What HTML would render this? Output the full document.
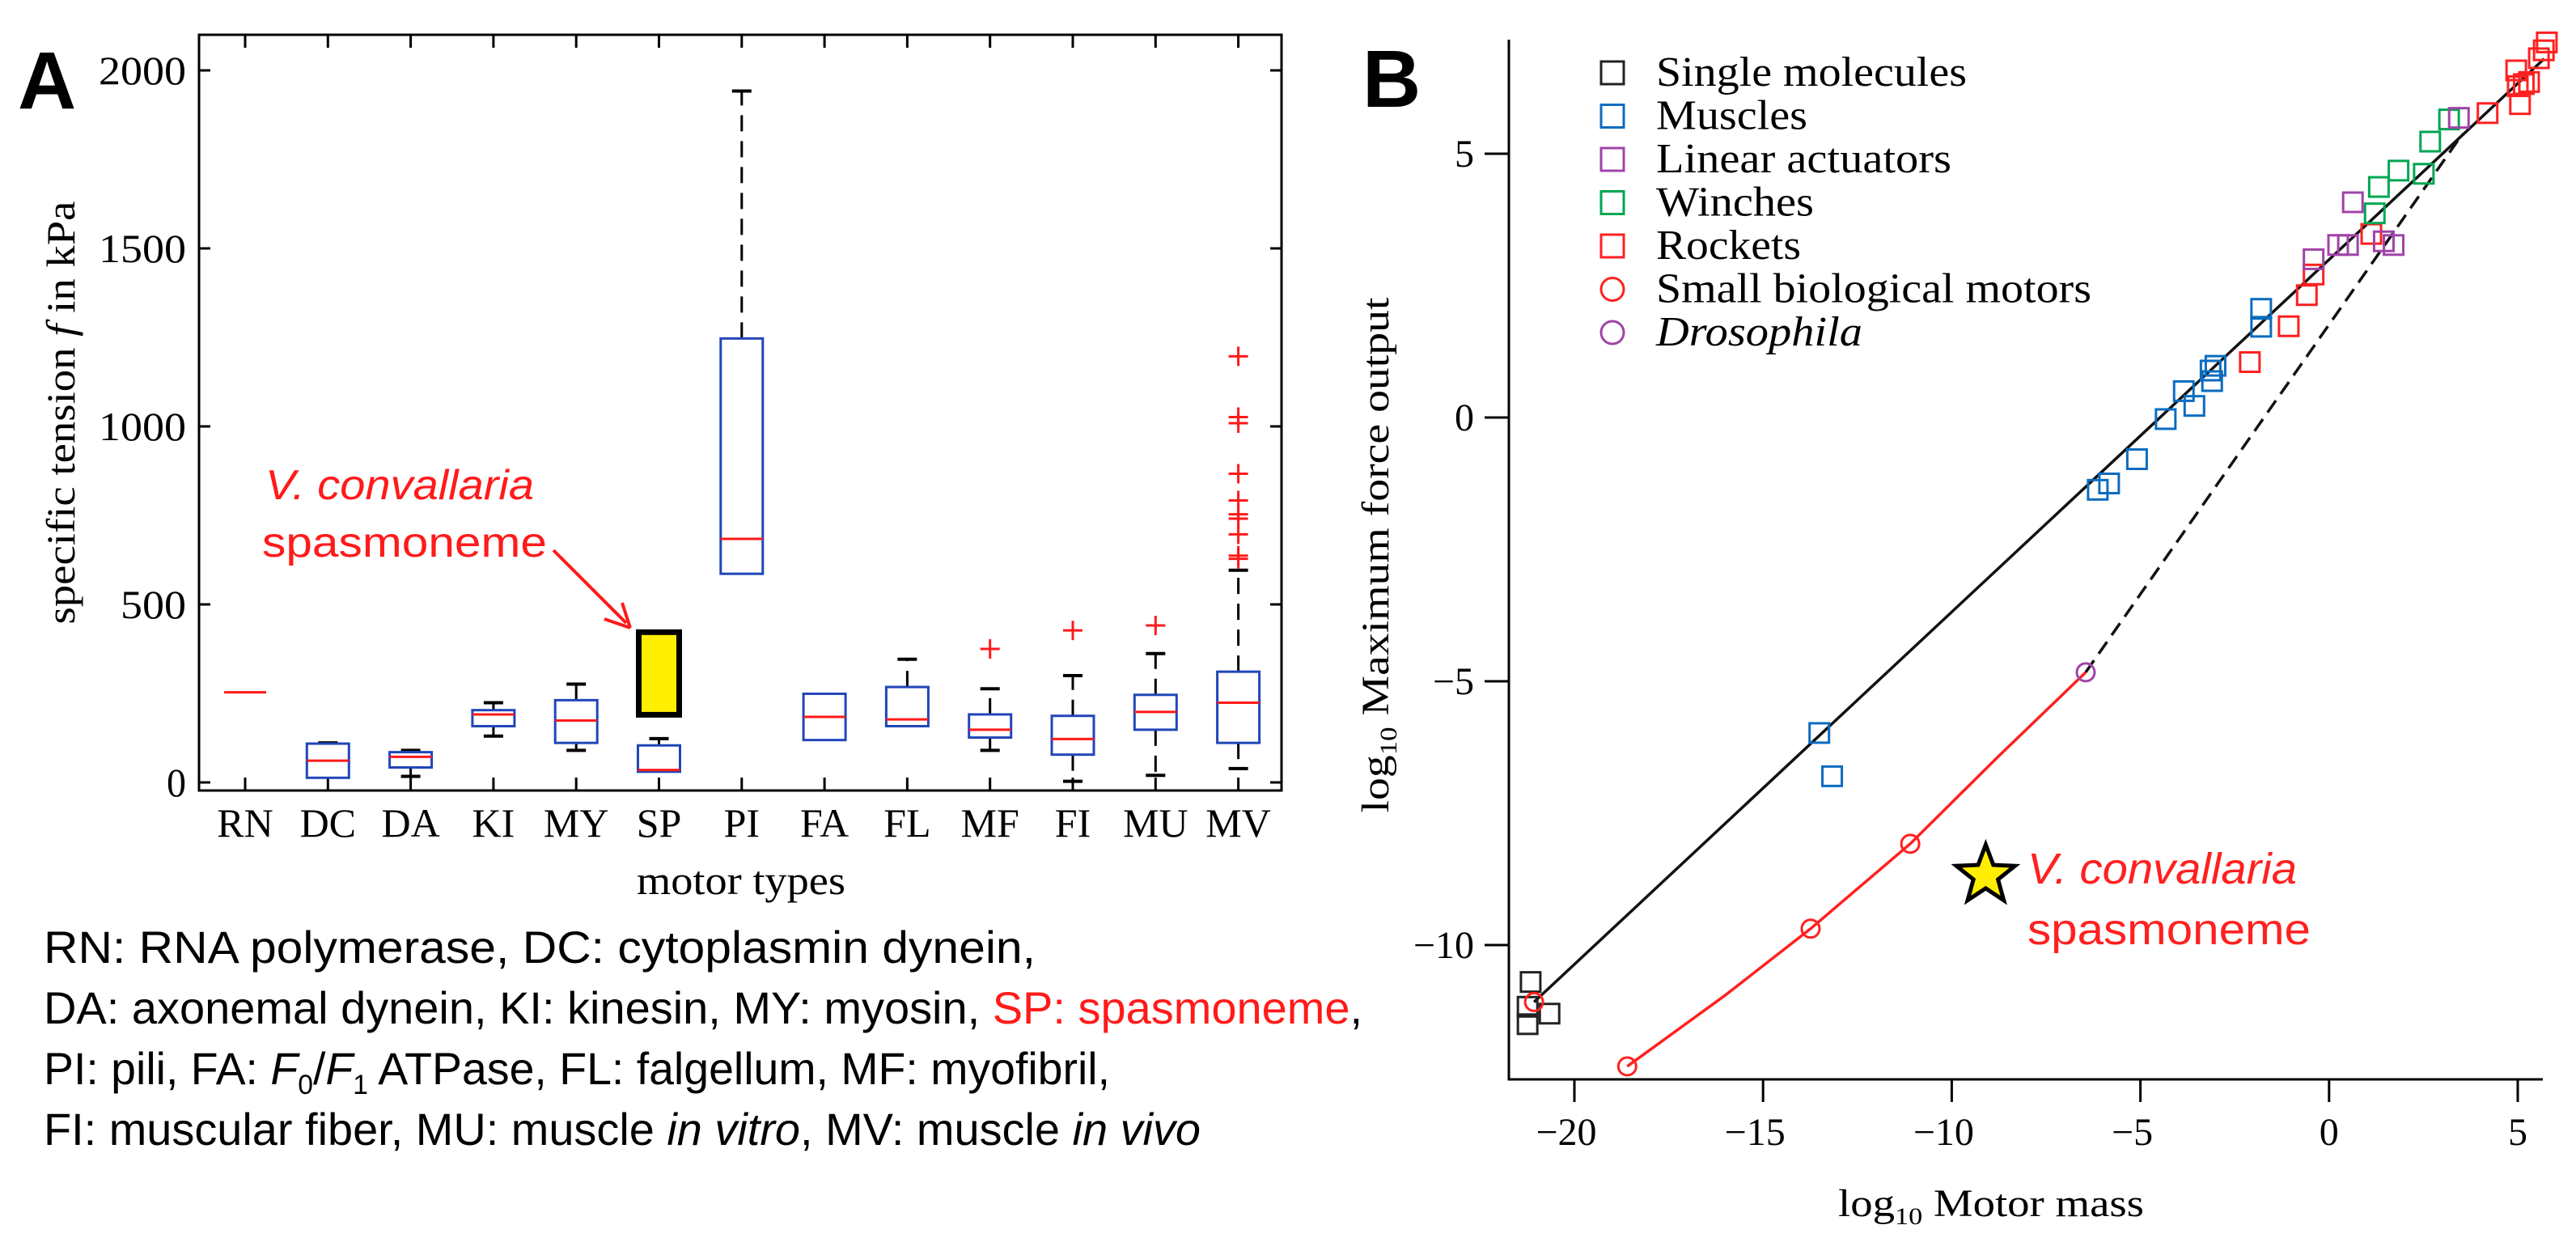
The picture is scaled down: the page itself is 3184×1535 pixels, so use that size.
<!DOCTYPE html>
<html><head><meta charset="utf-8"><style>
html,body{margin:0;padding:0;background:#fff;}
svg{display:block;}
</style></head>
<body>
<svg id="fig" width="3184" height="1535" viewBox="0 0 3184 1535" xmlns="http://www.w3.org/2000/svg">
<g id="pa"></g>
<g id="pb"></g>
</svg>
<script>
// ---------- Panel A data ----------
const catsA = ["RN","DC","DA","KI","MY","SP","PI","FA","FL","MF","FI","MU","MV"];
const q1A   = [253, 13, 42, 158, 111, 30, 586, 119, 158, 126, 78, 148, 111];
const medA  = [253, 61, 72, 191, 174, 35, 684, 184, 177, 148, 122, 198, 224];
const q3A   = [253, 109, 85, 203, 231, 104, 1247, 249, 268, 191, 187, 246, 311];
const whLoA = [253, 13, 17, 130, 90, 30, 586, 119, 158, 90, 3, 20, 39];
const whHiA = [253, 111, 90, 224, 276, 123, 1942, 249, 346, 263, 300, 362, 596];
const outCatA = [9, 10, 11, 12, 12, 12, 12, 12, 12, 12, 12, 12, 12];
const outValA = [375, 427, 441, 1197, 1026, 1009, 867, 792, 753, 741, 697, 637, 628];
const yTicksA = [0, 500, 1000, 1500, 2000];
const spRange = [190, 422];

// ---------- Panel B data ----------
const singleX = [-21.16, -21.24, -21.24, -20.66];
const singleY = [-10.7, -11.17, -11.5, -11.3];
const muscleX = [-13.51, -13.17, -6.13, -5.83, -5.09, -4.33, -3.85, -3.57, -3.14, -3.1, -3.01, -1.8, -1.8];
const muscleY = [-5.98, -6.8, -1.37, -1.25, -0.79, -0.03, 0.5, 0.22, 0.89, 0.69, 0.98, 2.06, 1.72];
const linearX = [-0.41, 0.24, 0.5, 0.63, 1.45, 1.71, 3.44];
const linearY = [3.0, 3.27, 3.27, 4.08, 3.34, 3.27, 5.68];
const winchX = [1.21, 1.32, 1.84, 2.51, 2.68, 3.18];
const winchY = [3.87, 4.37, 4.68, 4.62, 5.23, 5.65];
const rocketX = [-2.1, -1.07, -0.59, -0.41, 1.12, 4.2, 4.96, 5.0, 5.06, 5.16, 5.3, 5.56, 5.69, 5.77];
const rocketY = [1.05, 1.73, 2.32, 2.71, 3.48, 5.77, 6.58, 6.28, 5.94, 6.32, 6.36, 6.81, 6.96, 7.11];
const smallBioX = [-21.07, -18.6, -13.74, -11.1];
const smallBioY = [-11.08, -12.3, -9.69, -8.08];
const drosX = [-6.45];
const drosY = [-4.83];
const redCurveX = [-18.6, -16.0, -13.74, -11.1, -8.8, -6.45];
const redCurveY = [-12.3, -10.95, -9.69, -8.08, -6.45, -4.83];
const fitX = [-21.07, 5.7];
const fitY = [-11.08, 6.8];
const dashX = [-6.45, 3.54];
const dashY = [-4.83, 5.38];
const starX = [-9.1];
const starY = [-8.68];
const xTicksB = [-20, -15, -10, -5, 0, 5];
const yTicksB = [-10, -5, 0, 5];

const NS = "http://www.w3.org/2000/svg";
function mk(parent, tag, attrs, text){
  const e = document.createElementNS(NS, tag);
  for (const k in attrs) e.setAttribute(k, attrs[k]);
  if (text !== undefined) e.textContent = text;
  parent.appendChild(e);
  return e;
}

// ================= PANEL A =================
const pa = document.getElementById("pa");
const AX0 = 246, AX1 = 1584, AY0 = 43, AY1 = 977;
const xA = i => 303 + i * 102.3;
const yA = v => 967 - v * 0.44;
const RED = "#ff1a1a", BLUE = "#2046b8";

let t = mk(pa, "text", {x: 22, y: 134, "font-family": "Liberation Sans, sans-serif", "font-weight": "bold", "font-size": 100}, "A");



let frame = mk(pa, "rect", {x: AX0, y: AY0, width: AX1 - AX0, height: AY1 - AY0, fill: "none", stroke: "#000", "stroke-width": 3});



yTicksA.forEach(v => {
  const y = yA(v);
  const tk = mk(pa, "path", {d: `M${AX0} ${y}h14M${AX1} ${y}h-14`, stroke: "#000", "stroke-width": 3});
  
  
  const lb = mk(pa, "text", {x: 230, y: y + 17, "text-anchor": "end", "font-family": "Liberation Serif, serif", "font-size": 50, "textLength": v === 0 ? 24 : (String(v).length * 27), "lengthAdjust": "spacingAndGlyphs"}, String(v));
  
  
});

catsA.forEach((c, i) => {
  const x = xA(i);
  const tk = mk(pa, "path", {d: `M${x} ${AY1}v-16M${x} ${AY0}v16`, stroke: "#000", "stroke-width": 3});
  
  
  const lb = mk(pa, "text", {x: x, y: 1034, "text-anchor": "middle", "font-family": "Liberation Serif, serif", "font-size": 50}, c);
  
  

  const g = mk(pa, "g", {});
  
  
  const hw = 26;
  if (whHiA[i] > q3A[i]) {
    mk(g, "path", {d: `M${x} ${yA(q3A[i])}V${yA(whHiA[i])}`, stroke: "#000", "stroke-width": 3, "stroke-dasharray": "20,12"});
    mk(g, "path", {d: `M${x - 12} ${yA(whHiA[i])}h24`, stroke: "#000", "stroke-width": 4});
  }
  if (whLoA[i] < q1A[i]) {
    mk(g, "path", {d: `M${x} ${yA(q1A[i])}V${yA(whLoA[i])}`, stroke: "#000", "stroke-width": 3, "stroke-dasharray": "20,12"});
    mk(g, "path", {d: `M${x - 12} ${yA(whLoA[i])}h24`, stroke: "#000", "stroke-width": 4});
  }
  if (q3A[i] > q1A[i]) {
    mk(g, "rect", {x: x - hw, y: yA(q3A[i]), width: 2 * hw, height: yA(q1A[i]) - yA(q3A[i]), fill: "none", stroke: BLUE, "stroke-width": 3});
  }
  mk(g, "path", {d: `M${x - hw} ${yA(medA[i])}h${2 * hw}`, stroke: RED, "stroke-width": 3});
});

outValA.forEach((v, k) => {
  const x = xA(outCatA[k]), y = yA(v);
  const o = mk(pa, "path", {d: `M${x - 12} ${y}h24M${x} ${y - 12}v24`, stroke: RED, "stroke-width": 3});
  
  
});

const spX = xA(5);
let yb = mk(pa, "rect", {x: spX - 25, y: yA(spRange[1]), width: 50, height: yA(spRange[0]) - yA(spRange[1]), fill: "#ffee00", stroke: "#000", "stroke-width": 7});



let an1 = mk(pa, "text", {x: 328, y: 617, "font-family": "Liberation Sans, sans-serif", "font-style": "italic", "font-size": 52, fill: RED, "textLength": 332, "lengthAdjust": "spacingAndGlyphs"}, "V. convallaria");


let an2 = mk(pa, "text", {x: 324, y: 688, "font-family": "Liberation Sans, sans-serif", "font-size": 52, fill: RED, "textLength": 352, "lengthAdjust": "spacingAndGlyphs"}, "spasmoneme");


let ar = mk(pa, "g", {});


mk(ar, "path", {d: "M684 680L774 770", stroke: RED, "stroke-width": 4, fill: "none"});
mk(ar, "path", {d: "M779 776L747 765M779 776L769 745", stroke: RED, "stroke-width": 4, fill: "none"});

let yt = mk(pa, "text", {transform: "translate(92,510) rotate(-90)", "text-anchor": "middle", "font-family": "Liberation Serif, serif", "font-size": 50, "textLength": 523, "lengthAdjust": "spacingAndGlyphs"});


yt.innerHTML = 'specific tension <tspan font-style="italic">f</tspan> in kPa';
let xt = mk(pa, "text", {x: 916, y: 1105, "text-anchor": "middle", "font-family": "Liberation Serif, serif", "font-size": 50, "textLength": 258, "lengthAdjust": "spacingAndGlyphs"}, "motor types");



const keyLines = [
  {y: 1190, w: 1226, html: 'RN:  RNA polymerase, DC: cytoplasmin dynein,'},
  {y: 1265, w: 1630, html: 'DA: axonemal dynein, KI: kinesin, MY: myosin, <tspan fill="#ff1a1a">SP: spasmoneme</tspan>,'},
  {y: 1340, w: 1318, html: 'PI: pili, FA: <tspan font-style="italic">F</tspan><tspan font-size="34" dy="12">0</tspan><tspan dy="-12">/</tspan><tspan font-style="italic">F</tspan><tspan font-size="34" dy="12">1</tspan><tspan dy="-12"> ATPase, FL: falgellum, MF: myofibril,</tspan>'},
  {y: 1415, w: 1430, html: 'FI: muscular fiber, MU: muscle <tspan font-style="italic">in vitro</tspan>, MV: muscle <tspan font-style="italic">in vivo</tspan>'}
];
keyLines.forEach((l, k) => {
  const e = mk(pa, "text", {x: 54, y: l.y, "font-family": "Liberation Sans, sans-serif", "font-size": 56, "textLength": l.w, "lengthAdjust": "spacingAndGlyphs"});
  e.innerHTML = l.html;
  
  
});

// ================= PANEL B =================
const pb = document.getElementById("pb");
const BX0 = 1865, BX1 = 3143, BY0 = 49, BY1 = 1334;
const xB = v => 1946 + (v + 20) * 46.64;
const yB = v => 516 - v * 65.2;
const C = {black: "#222", blue: "#0b6cc0", purple: "#a043a8", green: "#00a651", red: "#ff2020"};

let tb = mk(pb, "text", {x: 1684, y: 132, "font-family": "Liberation Sans, sans-serif", "font-weight": "bold", "font-size": 100}, "B");



let axb = mk(pb, "path", {d: `M${BX0} ${BY0}V${BY1}H${BX1}`, fill: "none", stroke: "#000", "stroke-width": 3});



xTicksB.forEach(v => {
  const x = xB(v);
  const tk = mk(pb, "path", {d: `M${x} ${BY1}v28`, stroke: "#000", "stroke-width": 3});
  
  
  const lb = mk(pb, "text", {x: v < 0 ? x - 10 : x, y: 1415, "text-anchor": "middle", "font-family": "Liberation Serif, serif", "font-size": 48}, v < 0 ? "\u2212" + (-v) : String(v));
  
  
});
yTicksB.forEach(v => {
  const y = yB(v);
  const tk = mk(pb, "path", {d: `M${BX0} ${y}h-30`, stroke: "#000", "stroke-width": 3});
  
  
  const lb = mk(pb, "text", {x: 1822, y: y + 16, "text-anchor": "end", "font-family": "Liberation Serif, serif", "font-size": 48}, v < 0 ? "\u2212" + (-v) : String(v));
  
  
});

let ytb = mk(pb, "text", {transform: "translate(1716,686) rotate(-90)", "text-anchor": "middle", "font-family": "Liberation Serif, serif", "font-size": 48, "textLength": 637, "lengthAdjust": "spacingAndGlyphs"});
ytb.innerHTML = 'log<tspan font-size="30" dy="10">10</tspan><tspan dy="-10"> Maximum force output</tspan>';


let xtb = mk(pb, "text", {x: 2461, y: 1503, "text-anchor": "middle", "font-family": "Liberation Serif, serif", "font-size": 48, "textLength": 378, "lengthAdjust": "spacingAndGlyphs"});
xtb.innerHTML = 'log<tspan font-size="30" dy="10">10</tspan><tspan dy="-10"> Motor mass</tspan>';



let fl = mk(pb, "path", {d: `M${xB(fitX[0])} ${yB(fitY[0])}L${xB(fitX[1])} ${yB(fitY[1])}`, stroke: "#111", "stroke-width": 3.5, fill: "none"});


let dl = mk(pb, "path", {d: `M${xB(dashX[0])} ${yB(dashY[0])}L${xB(dashX[1])} ${yB(dashY[1])}`, stroke: "#111", "stroke-width": 3.5, fill: "none", "stroke-dasharray": "18,10"});


let rc = mk(pb, "polyline", {points: redCurveX.map((v, i) => xB(v) + "," + yB(redCurveY[i])).join(" "), stroke: C.red, "stroke-width": 3.5, fill: "none"});



function squares(xs, ys, color, name){
  const g = mk(pb, "g", {});
  
  
  xs.forEach((v, i) => {
    const r = mk(g, "rect", {x: xB(v) - 12, y: yB(ys[i]) - 12, width: 24, height: 24, fill: "none", stroke: color, "stroke-width": 3});
    
    
  });
}
function circles(xs, ys, color, name){
  const g = mk(pb, "g", {});
  
  
  xs.forEach((v, i) => {
    const c = mk(g, "circle", {cx: xB(v), cy: yB(ys[i]), r: 11, fill: "none", stroke: color, "stroke-width": 3});
    
    
  });
}
squares(singleX, singleY, C.black, "single-molecules");
squares(muscleX, muscleY, C.blue, "muscles");
squares(rocketX, rocketY, C.red, "rockets");
squares(winchX, winchY, C.green, "winches");
squares(linearX, linearY, C.purple, "linear-actuators");
circles(smallBioX, smallBioY, C.red, "small-biological-motors");
circles(drosX, drosY, C.purple, "drosophila");

const sx = xB(starX[0]), sy = yB(starY[0]);
let pts = [];
for (let k = 0; k < 10; k++) {
  const r = k % 2 ? 16 : 38;
  const a = -Math.PI / 2 + k * Math.PI / 5;
  pts.push((sx + r * Math.cos(a)).toFixed(1) + "," + (sy + r * Math.sin(a)).toFixed(1));
}
let st = mk(pb, "polygon", {points: pts.join(" "), fill: "#ffee00", stroke: "#000", "stroke-width": 5, "stroke-linejoin": "miter"});


let bn1 = mk(pb, "text", {x: 2506, y: 1092, "font-family": "Liberation Sans, sans-serif", "font-style": "italic", "font-size": 54, fill: C.red, "textLength": 333, "lengthAdjust": "spacingAndGlyphs"}, "V. convallaria");


let bn2 = mk(pb, "text", {x: 2506, y: 1167, "font-family": "Liberation Sans, sans-serif", "font-size": 54, fill: C.red, "textLength": 350, "lengthAdjust": "spacingAndGlyphs"}, "spasmoneme");



const legLabels = ["Single molecules", "Muscles", "Linear actuators", "Winches", "Rockets", "Small biological motors", "Drosophila"];
const legColors = [C.black, C.blue, C.purple, C.green, C.red, C.red, C.purple];
const legShapes = ["sq", "sq", "sq", "sq", "sq", "ci", "ci"];
const legWidths = [384, 187, 365, 195, 179, 538, 255];
const legG = mk(pb, "g", {});


legLabels.forEach((lab, i) => {
  const y = 90 + i * 53.5;
  const g = mk(legG, "g", {});
  
  
  if (legShapes[i] === "sq") mk(g, "rect", {x: 1979, y: y - 14, width: 28, height: 28, fill: "none", stroke: legColors[i], "stroke-width": 3});
  else mk(g, "circle", {cx: 1993, cy: y, r: 14, fill: "none", stroke: legColors[i], "stroke-width": 3});
  mk(g, "text", {x: 2047, y: y + 16, "font-family": "Liberation Serif, serif", "font-size": 52, "font-style": i === 6 ? "italic" : "normal", "textLength": legWidths[i], "lengthAdjust": "spacingAndGlyphs"}, lab);
});
</script>
</body></html>
